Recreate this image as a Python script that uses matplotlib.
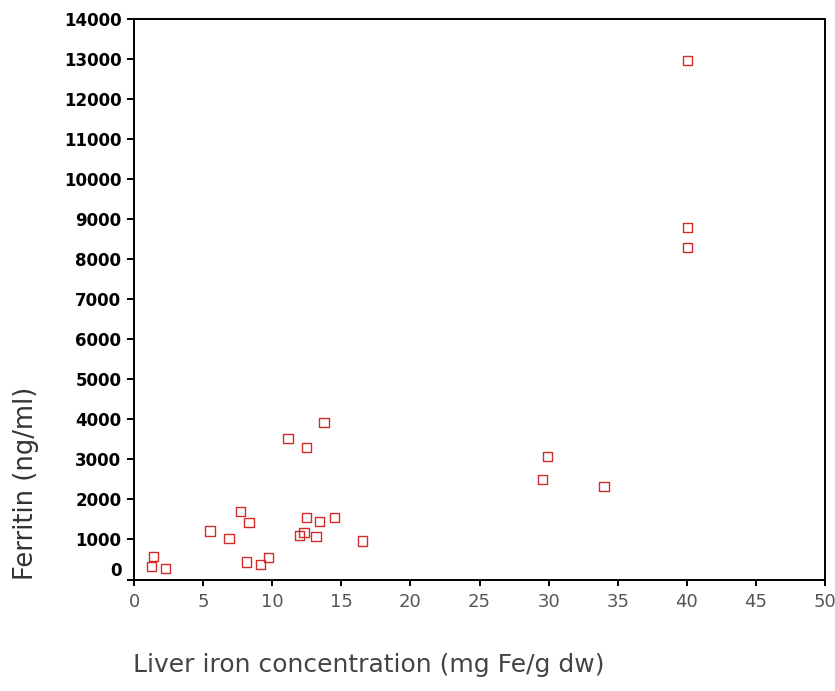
import matplotlib.pyplot as plt
import matplotlib.transforms as mtransforms

# liver iron concentration (mg Fe/g dw) vs ferritin (ng/ml)
liver_iron = [1.40, 1.25, 2.30, 5.49, 6.88, 7.70, 8.31, 8.12, 9.15, 9.71,
              11.14, 12.49, 13.75, 11.96, 12.30, 12.49, 13.17, 13.41, 14.51, 16.54,
              29.93, 29.57, 34.00, 40.07, 40.05, 40.05]
ferritin = [582, 332, 275, 1215, 1032, 1707, 1425, 440, 375, 550,
            3515, 3300, 3915, 1107, 1182, 1550, 1082, 1457, 1550, 965,
            3065, 2500, 2315, 12957, 8790, 8290]

x_ticks = [0, 5, 10, 15, 20, 25, 30, 35, 40, 45, 50]
y_ticks = list(range(0, 14001, 1000))

fig = plt.figure(figsize=(8.35, 6.91), dpi=100)
ax = fig.add_axes([134 / 835, 1 - 579.5 / 691, 691 / 835, 560.5 / 691])

ax.scatter(liver_iron, ferritin, marker='s', s=45, facecolors='none',
           edgecolors='#d42a2a', linewidths=1.0, zorder=3)

ax.set_xlim(0, 50)
ax.set_ylim(0, 14000)
ax.set_xticks(x_ticks)
ax.set_yticks(y_ticks)

for sp in ax.spines.values():
    sp.set_linewidth(1.4)
    sp.set_color('black')

ax.tick_params(axis='y', direction='out', length=5, width=1.4, labelsize=12, pad=4)
ax.tick_params(axis='x', direction='out', length=4, width=1.4, labelsize=13,
               labelcolor='#555555', pad=6)
for lbl in ax.get_yticklabels():
    lbl.set_fontweight('bold')

# the "0" label sits a little higher than its tick in the original
zero_lbl = ax.get_yticklabels()[0]
zero_lbl.set_transform(zero_lbl.get_transform() +
                       mtransforms.ScaledTranslation(0, 11 / 100, fig.dpi_scale_trans))

fig.text(369 / 835, 1 - 665 / 691, "Liver iron concentration (mg Fe/g dw)",
         ha='center', va='center', fontsize=18, color='#444444')
fig.text(26 / 835, 1 - 483 / 691, "Ferritin (ng/ml)", rotation=90,
         ha='center', va='center', fontsize=18.5, color='#333333')

fig.savefig("out.png", dpi=100)
